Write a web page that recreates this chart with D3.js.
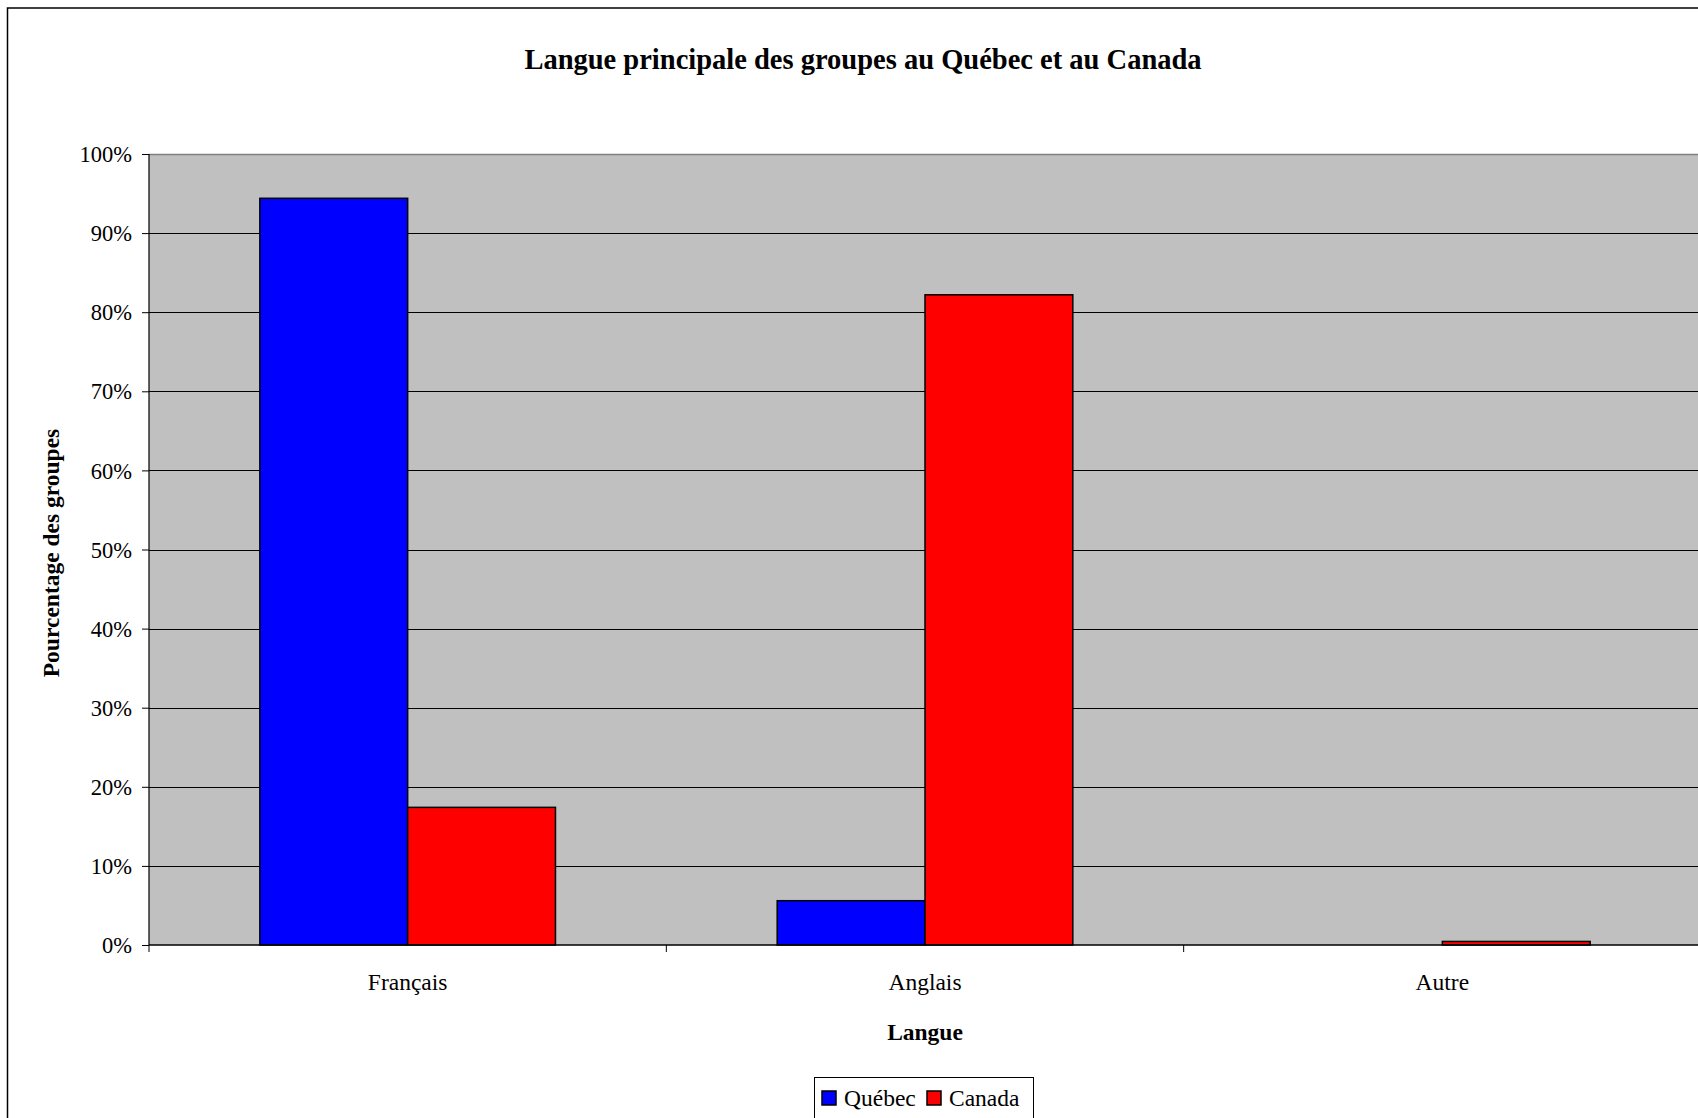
<!DOCTYPE html>
<html><head><meta charset="utf-8">
<script src="https://cdn.jsdelivr.net/npm/d3@7"></script>
<style>
html,body{margin:0;padding:0;background:#fff;overflow:hidden;}
svg{display:block;}
text{font-family:"Liberation Serif","Times New Roman",serif;fill:#000;}
</style></head>
<body>
<svg id="chart" width="1698" height="1118"></svg>
<script>
const categories = ["Français", "Anglais", "Autre"];
const seriesNames = ["Québec", "Canada"];
const quebecValues = [0.944, 0.056, 0.0];
const canadaValues = [0.174, 0.822, 0.0045];
const yTicks = [0, 0.1, 0.2, 0.3, 0.4, 0.5, 0.6, 0.7, 0.8, 0.9, 1.0];
const colors = ["#0000ff", "#ff0000"];

const svg = d3.select("#chart");
const plot = {left: 149, top: 154, right: 1701, bottom: 945};
const labelSize = "23.5px";

// outer chart border
svg.append("rect").attr("x", 7.5).attr("y", 8).attr("width", 1720).attr("height", 1130)
  .attr("fill", "#fff").attr("stroke", "#000").attr("stroke-width", 1.5);

const x = d3.scaleBand().domain(categories).range([plot.left, plot.right]).paddingInner(0).paddingOuter(0);
const inner = d3.scaleBand().domain(seriesNames).range([0, x.bandwidth()]).paddingInner(0).paddingOuter(0.75);
const y = d3.scaleLinear().domain([0, 1]).range([plot.bottom, plot.top]);

// plot area background
svg.append("rect").attr("x", plot.left).attr("y", plot.top)
  .attr("width", plot.right - plot.left).attr("height", plot.bottom - plot.top)
  .attr("fill", "#c0c0c0");

// gridlines
svg.append("g").selectAll("line").data(yTicks.filter(d => d > 0 && d < 1)).join("line")
  .attr("x1", plot.left).attr("x2", plot.right)
  .attr("y1", d => Math.round(y(d)) + 0.5).attr("y2", d => Math.round(y(d)) + 0.5)
  .attr("stroke", "#000").attr("stroke-width", 1);
svg.append("line").attr("x1", plot.left).attr("x2", plot.right)
  .attr("y1", plot.top + 0.5).attr("y2", plot.top + 0.5)
  .attr("stroke", "#808080").attr("stroke-width", 1.5);

// bars
const data = [];
categories.forEach((c, i) => {
  data.push({cat: c, s: seriesNames[0], v: quebecValues[i], col: colors[0]});
  data.push({cat: c, s: seriesNames[1], v: canadaValues[i], col: colors[1]});
});
svg.append("g").selectAll("rect").data(data.filter(d => d.v > 0)).join("rect")
  .attr("x", d => x(d.cat) + inner(d.s))
  .attr("y", d => y(d.v))
  .attr("width", inner.bandwidth())
  .attr("height", d => y(0) - y(d.v))
  .attr("fill", d => d.col)
  .attr("stroke", "#000").attr("stroke-width", 1.5);

// y axis
const yAxis = d3.axisLeft(y).tickValues(yTicks).tickFormat(d3.format(".0%")).tickSize(7).tickPadding(10);
const gy = svg.append("g").attr("transform", `translate(${plot.left},0)`).call(yAxis);
gy.select(".domain").attr("stroke", "#000").attr("stroke-width", 1.2).attr("d", `M0,${plot.top}V${plot.bottom}`);
gy.selectAll(".tick line").attr("stroke", "#000");
gy.selectAll(".tick text").style("font-size", "22.5px").style("font-family", '"Liberation Serif",serif').attr("dy", "0.34em");

// x axis
const gx = svg.append("g").attr("transform", `translate(0,${plot.bottom})`);
gx.append("line").attr("x1", plot.left).attr("x2", plot.right).attr("y1", 0).attr("y2", 0)
  .attr("stroke", "#000").attr("stroke-width", 1.5);
gx.selectAll("line.tk").data(categories.concat(["__end"])).join("line").attr("class", "tk")
  .attr("x1", (d, i) => i < categories.length ? x(d) : plot.right)
  .attr("x2", (d, i) => i < categories.length ? x(d) : plot.right)
  .attr("y1", 0).attr("y2", 7).attr("stroke", "#000");
gx.selectAll("text").data(categories).join("text")
  .attr("x", d => x(d) + x.bandwidth() / 2).attr("y", 45)
  .attr("text-anchor", "middle").style("font-size", labelSize).text(d => d);

// title
svg.append("text").attr("x", 863).attr("y", 69).attr("text-anchor", "middle")
  .style("font-size", "28.5px").style("font-weight", "bold")
  .text("Langue principale des groupes au Québec et au Canada");

// axis titles
svg.append("text").attr("x", 925).attr("y", 1040).attr("text-anchor", "middle")
  .style("font-size", labelSize).style("font-weight", "bold").text("Langue");
svg.append("text").attr("transform", "translate(59,553) rotate(-90)").attr("text-anchor", "middle")
  .style("font-size", labelSize).style("font-weight", "bold").text("Pourcentage des groupes");

// legend
const lg = svg.append("g");
lg.append("rect").attr("x", 814.5).attr("y", 1077.5).attr("width", 219).attr("height", 60)
  .attr("fill", "#fff").attr("stroke", "#000").attr("stroke-width", 1);
const legendX = [822, 927];
seriesNames.forEach((s, i) => {
  lg.append("rect").attr("x", legendX[i]).attr("y", 1091).attr("width", 14).attr("height", 14)
    .attr("fill", colors[i]).attr("stroke", "#000").attr("stroke-width", 1.5);
  lg.append("text").attr("x", legendX[i] + 22).attr("y", 1106).style("font-size", labelSize).text(s);
});
</script>
</body></html>
